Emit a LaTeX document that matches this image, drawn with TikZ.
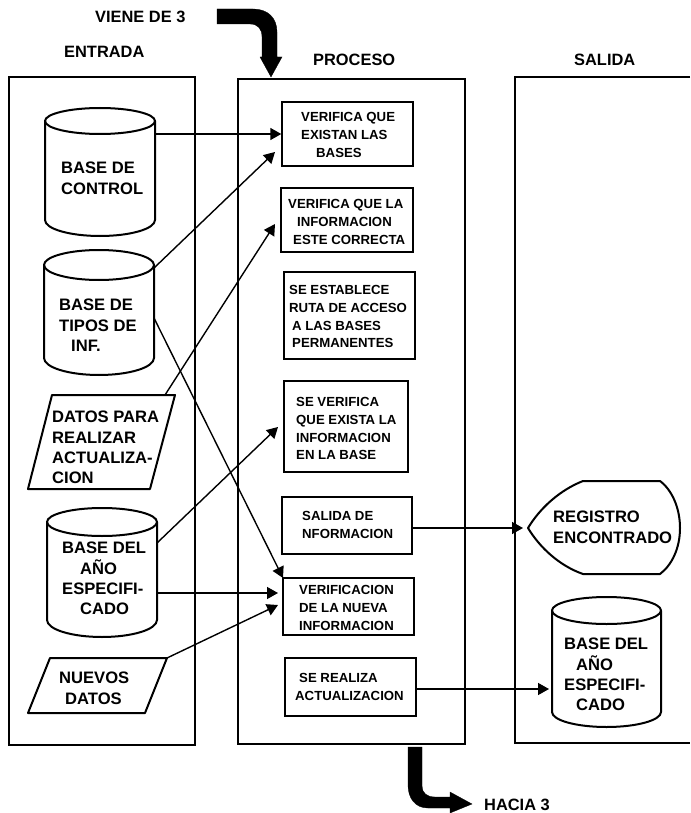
\documentclass[tikz,border=0pt]{standalone}
\usepackage{fontspec}
\setmainfont{Liberation Sans}[UprightFont=*-Bold]
\usetikzlibrary{arrows.meta}
\tikzset{
  x=1pt,y=-1pt,
  frame/.style={draw=black,line width=1.6pt},
  procbox/.style={draw=black,line width=1.4pt,inner sep=0pt,rectangle},
  shapeline/.style={draw=black,line width=2pt,line join=round},
  flow/.style={draw=black,line width=1.4pt,-{Triangle[length=11pt,width=12pt]}},
  bigarrow/.style={fill=black,draw=black,line width=.3pt},
  holder/.style={inner sep=0pt,rectangle},
  small/.style={anchor=north west,inner sep=0pt,align=left,font=\fontsize{13.2}{17.7}\selectfont},
  large/.style={anchor=north west,inner sep=0pt,align=left,font=\fontsize{16.6}{20.3}\selectfont},
  title/.style={anchor=west,inner sep=0pt,font=\fontsize{16.4}{20}\selectfont},
}
% name, x1, y1, x2, y2
\newcommand\procnode[5]{%
  \pgfmathsetmacro\pw{#4-#2}\pgfmathsetmacro\ph{#5-#3}%
  \node[procbox,minimum width=\pw pt,minimum height=\ph pt] (#1) at ({(#2+#4)/2},{(#3+#5)/2}) {};}
% name, x1, x2, top, ry top, side end, ry bottom
\newcommand\cylnode[7]{%
  \pgfmathsetmacro\pw{#3-#2}\pgfmathsetmacro\ph{#6+#7-#4}%
  \pgfmathsetmacro\prx{(#3-#2)/2}%
  \node[holder,minimum width=\pw pt,minimum height=\ph pt] (#1) at ({(#2+#3)/2},{(#4+#6+#7)/2}) {};
  \draw[shapeline] ({(#2+#3)/2},{#4+#5}) ellipse [x radius=\prx pt,y radius=#5 pt];
  \draw[shapeline] (#2,{#4+#5}) -- (#2,#6) arc[start angle=180,end angle=360,x radius=\prx pt,y radius=#7 pt] -- (#3,{#4+#5});}
\begin{document}
\begin{tikzpicture}
\useasboundingbox (0,0) rectangle (690,813);
% frames
\node[holder,draw=black,line width=1.6pt,minimum width=186pt,minimum height=668pt] (entrada) at (102,411) {};
\node[holder,draw=black,line width=1.6pt,minimum width=227pt,minimum height=665pt] (proceso) at (351.5,411.5) {};
\draw[frame] (690,77) -- (515,77) -- (515,743) -- (690,743);
% titles
\node[title] (tviene) at (95,17) {VIENE DE 3};
\node[title] (tent) at (64,52) {ENTRADA};
\node[title] (tpro) at (313,60) {PROCESO};
\node[title] (tsal) at (574,60) {SALIDA};
\node[title] (thacia) at (484,805) {HACIA 3};
% big arrows
\draw[bigarrow] (217,9) -- (253,9) .. controls (268,9) and (277,18) .. (277,32) -- (277,57) -- (282,57) -- (271,77) -- (260,57) -- (262,57) -- (262,37) .. controls (262,29) and (258,24) .. (250,24) -- (217,24) -- cycle;
\draw[bigarrow] (408,747) -- (422,747) -- (422,786) .. controls (422,793) and (427,797) .. (435,797) -- (450,797) -- (450,792) -- (472,804) -- (450,813) -- (450,808) -- (428,808) .. controls (415,808) and (408,798) .. (408,785) -- cycle;
% cylinders
\cylnode{c1}{45}{155}{108}{13}{220}{16}
\cylnode{c2}{44}{154}{250}{15}{358}{17}
\cylnode{c3}{47}{157}{508}{14}{620}{17}
\cylnode{c4}{552}{661}{597}{13.5}{712}{15}
\node[large] (t1) at (61,{168-6}) {BASE DE\\CONTROL};
\node[large] (t2) at (59,{305-6}) {BASE DE\\TIPOS DE\\\hspace{12pt}INF.};
\node[large] (t3) at (62,{548-6}) {BASE DEL\\\hspace{18pt}AÑO\\ESPECIFI-\\\hspace{18pt}CADO};
\node[large] (t4) at (564,{644-6}) {BASE DEL\\\hspace{12pt}AÑO\\ESPECIFI-\\\hspace{12pt}CADO};
% parallelograms
\node[holder,minimum width=147pt,minimum height=94pt] (datos) at (101.5,442) {};
\draw[shapeline] (52,395) -- (175,395) -- (150,489) -- (28,489) -- cycle;
\node[large] (t5) at (52,{417-6}) {DATOS PARA\\REALIZAR\\ACTUALIZA-\\CION};
\node[holder,minimum width=139pt,minimum height=55pt] (nuevos) at (97.5,685.5) {};
\draw[shapeline] (50,658) -- (167,658) -- (145,713) -- (28,713) -- cycle;
\node[large] (t6) at (59,{678-6}) {NUEVOS\\\hspace{6pt}DATOS};
% registro
\node[holder,minimum width=152pt,minimum height=93pt] (reg) at (604,527.5) {};
\draw[shapeline] (528,528) .. controls (540,508) and (560,490) .. (583,481) -- (660,481) .. controls (672,490) and (680,508) .. (680,528) .. controls (680,548) and (672,565) .. (660,574) -- (583,574) .. controls (560,566) and (540,548) .. (528,528) -- cycle;
\node[large] (t7) at (553,{517-6}) {REGISTRO\\ENCONTRADO};
% process boxes
\procnode{b1}{282}{102}{413}{166}
\procnode{b2}{281}{188}{413}{252}
\procnode{b3}{284}{272}{415}{359}
\procnode{b4}{284}{381}{408}{472}
\procnode{b5}{282}{497}{412}{554}
\procnode{b6}{283}{578}{414}{635}
\procnode{b7}{285}{658}{416}{716}
\node[small] (s1) at (301,{117-4.8}) {VERIFICA QUE\\EXISTAN LAS\\\hspace{15pt}BASES};
\node[small] (s2) at (288,{204-4.8}) {VERIFICA QUE LA\\\hspace{9pt}INFORMACION\\\hspace{5pt}ESTE CORRECTA};
\node[small] (s3) at (289,{290-4.8}) {SE ESTABLECE\\RUTA DE ACCESO\\\hspace{3pt}A LAS BASES\\\hspace{3pt}PERMANENTES};
\node[small] (s4) at (296,{402-4.8}) {SE VERIFICA\\QUE EXISTA LA\\INFORMACION\\EN LA BASE};
\node[small] (s5) at (302,{516-4.8}) {SALIDA DE\\NFORMACION};
\node[small] (s6) at (299,{590-4.8}) {VERIFICACION\\DE LA NUEVA\\INFORMACION};
\node[small] (s7) at (295,{678-4.8}) {\hspace{4pt}SE REALIZA\\ACTUALIZACION};
% connector ends
\coordinate (a1) at (c1.east |- b1.west);
\coordinate (a2s) at (154,268);
\coordinate (a2e) at (275,152);
\coordinate (a3s) at (165,395);
\coordinate (a3e) at (275,224);
\coordinate (a4s) at (157,543);
\coordinate (a4e) at (278,427);
\coordinate (a5s) at (157,593);
\coordinate (a5e) at (278,593);
\coordinate (a6s) at (167,658);
\coordinate (a6e) at (278,605);
\coordinate (a7s) at (154,318);
\coordinate (a7e) at (283,578);
\coordinate (a8e) at (523,528);
\coordinate (a9e) at (549,689);
% connectors
\draw[flow] (a1) -- (b1.west);
\draw[flow] (a2s) -- (a2e);
\draw[flow] (a3s) -- (a3e);
\draw[flow] (a4s) -- (a4e);
\draw[flow] (a5s) -- (a5e);
\draw[flow] (a6s) -- (a6e);
\draw[flow] (a7s) -- (a7e);
\draw[flow] (b5.east |- a8e) -- (a8e);
\draw[flow] (b7.east |- a9e) -- (a9e);
\end{tikzpicture}
\end{document}
